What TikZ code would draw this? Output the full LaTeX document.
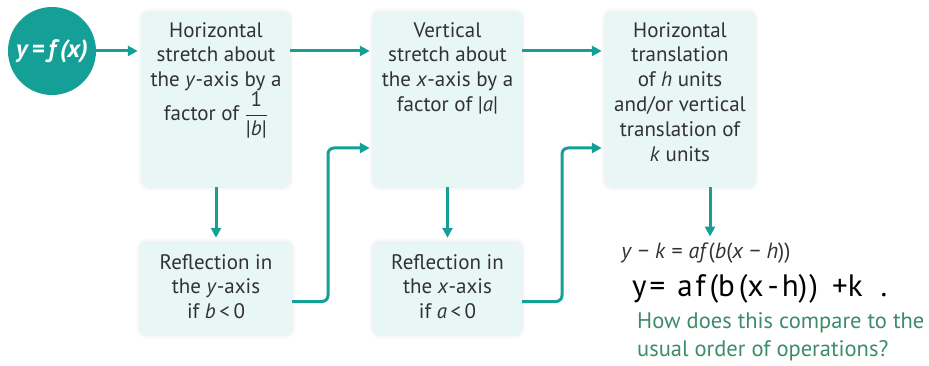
\documentclass[tikz,border=0pt]{standalone}
\usepackage{amsmath}
\usepackage{fontspec}
\setmainfont{PT Sans}
\usetikzlibrary{arrows.meta,shadows.blur}
\definecolor{teal1}{RGB}{20,160,150}
\definecolor{boxfill}{RGB}{232,246,246}
\definecolor{txt}{RGB}{50,50,50}
\definecolor{qgreen}{RGB}{60,140,105}
\begin{document}
\begin{tikzpicture}[x=1pt,y=-1pt,
  box/.style={draw=none, fill=boxfill, rounded corners=7pt, inner sep=0pt,
    blur shadow={shadow xshift=0pt, shadow yshift=0pt, shadow blur radius=4pt, shadow opacity=12}},
  lbl/.style={font=\fontsize{21}{24.8}\selectfont, text=txt, align=center, anchor=north, inner sep=0pt},
  conn/.style={draw=teal1, line width=3pt, -{Triangle[length=10pt,width=10pt]}, rounded corners=6pt},
]
\useasboundingbox (0,0) rectangle (929,366);
% circle
\node[circle, fill=teal1, minimum size=88pt, inner sep=0pt, text=white,
  font=\fontsize{25}{28}\selectfont\bfseries\itshape] (c) at (52,51) {y\,=\,f\,(x)};
% boxes
\node[box, minimum width=148pt, minimum height=175pt] (b1) at (216,99.5) {};
\node[box, minimum width=149pt, minimum height=175pt] (b2) at (447.5,99.5) {};
\node[box, minimum width=150pt, minimum height=175pt] (b3) at (680,99.5) {};
\node[box, minimum width=152pt, minimum height=93pt] (r1) at (216,288.5) {};
\node[box, minimum width=149pt, minimum height=93pt] (r2) at (447.5,288.5) {};
% texts
\node[lbl] (t1) at (216,22) {Horizontal\\stretch about\\the \textit{y}-axis by a\\factor of $\dfrac{\text{1}}{\text{|\textit{b}|}}$};
\node[lbl] (t2) at (447.5,22) {Vertical\\stretch about\\the \textit{x}-axis by a\\factor of |\textit{a}|};
\node[lbl] (t3) at (680,22) {Horizontal\\translation\\of \textit{h} units\\and/or vertical\\translation of\\\textit{k} units};
\node[lbl] (u1) at (216,254) {Reflection in\\the \textit{y}-axis\\if \textit{b}\,<\,0};
\node[lbl] (u2) at (447.5,254) {Reflection in\\the \textit{x}-axis\\if \textit{a}\,<\,0};
\node[font=\fontsize{22}{26}\selectfont, text=txt, inner sep=0pt] (eq) at (706,253)
  {\textit{y} − \textit{k} = \textit{af}(\textit{b}(\textit{x} − \textit{h}))};
\node[font=\fontsize{31}{34}\selectfont, text=black, inner sep=0pt, anchor=west] (hw) at (632,289)
  {y\hspace{3pt}=\hspace{12pt}a\hspace{3pt}f\hspace{4pt}(b\hspace{4pt}(x\hspace{4pt}-\hspace{3pt}h)\hspace{2pt})\hspace{14pt}+k\hspace{18pt}.};
\node[font=\fontsize{22.5}{28}\selectfont, text=qgreen, align=left, anchor=west, inner sep=0pt] (q) at (637,337)
  {How does this compare to the\\usual order of operations?};
% connectors
\coordinate (k1) at (328,148);
\coordinate (k2) at (562,148);
\draw[conn, shorten >=4pt] (c.east) -- (c.east -| b1.west);
\draw[conn, shorten >=3pt] (b1.east |- c.east) -- (b2.west |- c.east);
\draw[conn, shorten >=3pt] (b2.east |- c.east) -- (b3.west |- c.east);
\draw[conn, shorten >=4pt] (b1.south) -- (r1.north);
\draw[conn, shorten >=4pt] (b2.south) -- (r2.north);
\draw[conn, shorten >=6pt] ([xshift=30pt]b3.south) -- ([xshift=30pt]b3.south |- eq.north);
\draw[conn, shorten >=3pt] ([yshift=-13pt]r1.east) -| (k1) -- (k1 -| b2.west);
\draw[conn, shorten >=3pt] ([yshift=-13pt]r2.east) -| (k2) -- (k2 -| b3.west);
\end{tikzpicture}
\end{document}
